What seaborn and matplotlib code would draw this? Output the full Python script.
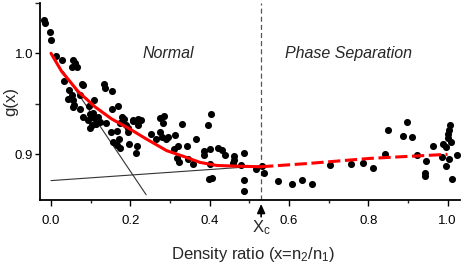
import numpy as np
import pandas as pd
import matplotlib
matplotlib.use("Agg")
import matplotlib.pyplot as plt
import seaborn as sns

# ---- data ----
density_ratio = [
    -0.018, -0.015, -0.003, 0.000, 0.013, 0.028, 0.056, 0.060, 0.053, 0.066,
    0.034, 0.046, 0.042, 0.052, 0.056, 0.059, 0.073, 0.077, 0.081, 0.134,
    0.137, 0.155, 0.109, 0.097, 0.073, 0.153, 0.170, 0.055, 0.080, 0.098,
    0.105, 0.094, 0.108, 0.119, 0.124, 0.103, 0.113, 0.098, 0.140, 0.178,
    0.174, 0.189, 0.195, 0.151, 0.167, 0.157, 0.172, 0.167, 0.174, 0.197,
    0.216, 0.214, 0.208, 0.219, 0.226, 0.220, 0.275, 0.286, 0.283, 0.252,
    0.264, 0.275, 0.281, 0.289, 0.294, 0.313, 0.330, 0.321, 0.311, 0.342,
    0.317, 0.324, 0.346, 0.357, 0.365, 0.404, 0.397, 0.387, 0.387, 0.401,
    0.420, 0.432, 0.439, 0.462, 0.462, 0.460, 0.487, 0.479, 0.401, 0.405,
    0.398, 0.486, 0.486, 0.517, 0.533, 0.538, 0.573, 0.607, 0.632, 0.658,
    0.704, 0.756, 0.786, 0.813, 0.842, 0.851, 0.899, 0.887, 0.910, 0.924,
    0.946, 0.942, 0.942, 0.963, 0.988, 0.996, 0.985, 1.005, 0.996, 1.011,
    1.023, 1.006, 1.005, 1.002, 1.000, 1.009, 0.184, 0.206, 0.193,
]
g_values = [
    1.033, 1.030, 1.021, 1.013, 0.997, 0.993, 0.993, 0.990, 0.986, 0.986,
    0.973, 0.964, 0.955, 0.959, 0.954, 0.949, 0.959, 0.970, 0.969, 0.970,
    0.966, 0.963, 0.954, 0.948, 0.945, 0.945, 0.948, 0.947, 0.937, 0.940,
    0.941, 0.934, 0.936, 0.937, 0.932, 0.929, 0.930, 0.926, 0.931, 0.937,
    0.931, 0.929, 0.926, 0.922, 0.923, 0.912, 0.915, 0.909, 0.906, 0.910,
    0.908, 0.901, 0.933, 0.935, 0.934, 0.929, 0.936, 0.938, 0.931, 0.920,
    0.915, 0.922, 0.917, 0.915, 0.917, 0.919, 0.930, 0.908, 0.905, 0.908,
    0.896, 0.892, 0.895, 0.890, 0.915, 0.940, 0.929, 0.903, 0.899, 0.905,
    0.906, 0.904, 0.899, 0.898, 0.894, 0.891, 0.901, 0.889, 0.890, 0.877,
    0.876, 0.875, 0.864, 0.885, 0.888, 0.882, 0.874, 0.871, 0.875, 0.871,
    0.889, 0.890, 0.891, 0.886, 0.900, 0.924, 0.932, 0.918, 0.917, 0.899,
    0.893, 0.882, 0.879, 0.908, 0.910, 0.907, 0.897, 0.895, 0.888, 0.876,
    0.899, 0.929, 0.924, 0.920, 0.916, 0.912, 0.935, 0.934, 0.922,
]

fit_normal_x = [0.0, 0.027, 0.069, 0.111, 0.153, 0.195, 0.237, 0.292, 0.334, 0.376, 0.418, 0.460, 0.530]
fit_normal_y = [1.0, 0.982, 0.962, 0.947, 0.935, 0.926, 0.916, 0.9036, 0.898, 0.892, 0.889, 0.8884, 0.8877]
fit_phase_x = [0.530, 0.650, 0.805, 1.0]
fit_phase_y = [0.8877, 0.891, 0.896, 0.900]

steep_line_x = [0.031, 0.240]
steep_line_y = [0.982, 0.860]
shallow_line_x = [0.0, 0.530]
shallow_line_y = [0.874, 0.8885]

x_critical = 0.53
x_ticks = [0.0, 0.2, 0.4, 0.6, 0.8, 1.0]
y_ticks = [0.9, 1.0]

# ---- styling ----
sns.set_theme(style="ticks")
plt.rcParams['font.family'] = ['Liberation Sans', 'DejaVu Sans']
plt.rcParams['mathtext.fontset'] = 'custom'
plt.rcParams['mathtext.rm'] = 'Liberation Sans'
plt.rcParams['mathtext.it'] = 'Liberation Sans:italic'

fig = plt.figure(figsize=(4.63, 2.70), dpi=100)
ax = fig.add_axes([40 / 463, 1 - 200 / 270, 420 / 463, 197.2 / 270])

df_pts = pd.DataFrame({"x": density_ratio, "g": g_values})
sns.scatterplot(data=df_pts, x="x", y="g", ax=ax, color="black", s=26,
                linewidth=0, zorder=4)

sns.lineplot(x=steep_line_x, y=steep_line_y, ax=ax, color="#333333", lw=0.8, zorder=3)
sns.lineplot(x=shallow_line_x, y=shallow_line_y, ax=ax, color="#333333", lw=0.8, zorder=3)

sns.lineplot(x=fit_normal_x, y=fit_normal_y, ax=ax, color="#ff0000", lw=2.2,
             zorder=5, sort=False)
sns.lineplot(x=fit_phase_x, y=fit_phase_y, ax=ax, color="#ff0000", lw=2.2,
             zorder=5, sort=False, linestyle=(0, (4, 1.5)))

ax.axvline(x_critical, color="#555555", lw=0.9, linestyle=(0, (4, 2.5)), zorder=2)

ax.set_xlim(-0.0277, 1.0315)
ax.set_ylim(0.8548, 1.05)
ax.set_xticks(x_ticks)
ax.set_xticklabels([f"{t:.1f}" for t in x_ticks])
ax.set_yticks(y_ticks)
ax.set_yticklabels([f"{t:.1f}" for t in y_ticks])
ax.set_xticks([0.1, 0.3, 0.5, 0.7, 0.9], minor=True)
ax.set_yticks([0.95, 1.05], minor=True)
ax.tick_params(axis="x", which="major", direction="out", length=4, width=1,
               labelsize=9.5, pad=6.5, colors="black")
ax.tick_params(axis="x", which="minor", direction="out", length=2.5, width=1)
ax.tick_params(axis="y", which="major", direction="out", length=3.5, width=1,
               labelsize=9.5, pad=1.5, colors="black")
ax.tick_params(axis="y", which="minor", direction="out", length=3.5, width=1)

sns.despine(ax=ax)
for sp in ("left", "bottom"):
    ax.spines[sp].set_color("black")
    ax.spines[sp].set_linewidth(1.3)

ax.set_xlabel("Density ratio (x=n$_2$/n$_1$)", fontsize=12)
ax.set_ylabel("g(x)", fontsize=12)
ax.xaxis.set_label_coords((253 - 40) / 420, -(245 - 200) / 197.2)
ax.yaxis.label.set_va("center")
ax.yaxis.set_label_coords((10.5 - 40) / 420, 0.5)

ax.text(0.296, 1.0, "Normal", fontsize=11.5, style="italic", ha="center", va="center")
ax.text(0.75, 1.0, "Phase Separation", fontsize=11.5, style="italic", ha="center", va="center")

trans = ax.get_xaxis_transform()
ax.annotate("", xy=(x_critical, -0.02), xycoords=trans,
            xytext=(x_critical, -0.085), textcoords=trans,
            arrowprops=dict(arrowstyle="-|>,head_length=0.45,head_width=0.2",
                            color="black", lw=1.2, shrinkA=0, shrinkB=0),
            annotation_clip=False)
ax.text(x_critical, -0.14, "X$_\\mathrm{c}$", transform=trans, fontsize=12,
        ha="center", va="center")

fig.savefig("out.png", dpi=100)
